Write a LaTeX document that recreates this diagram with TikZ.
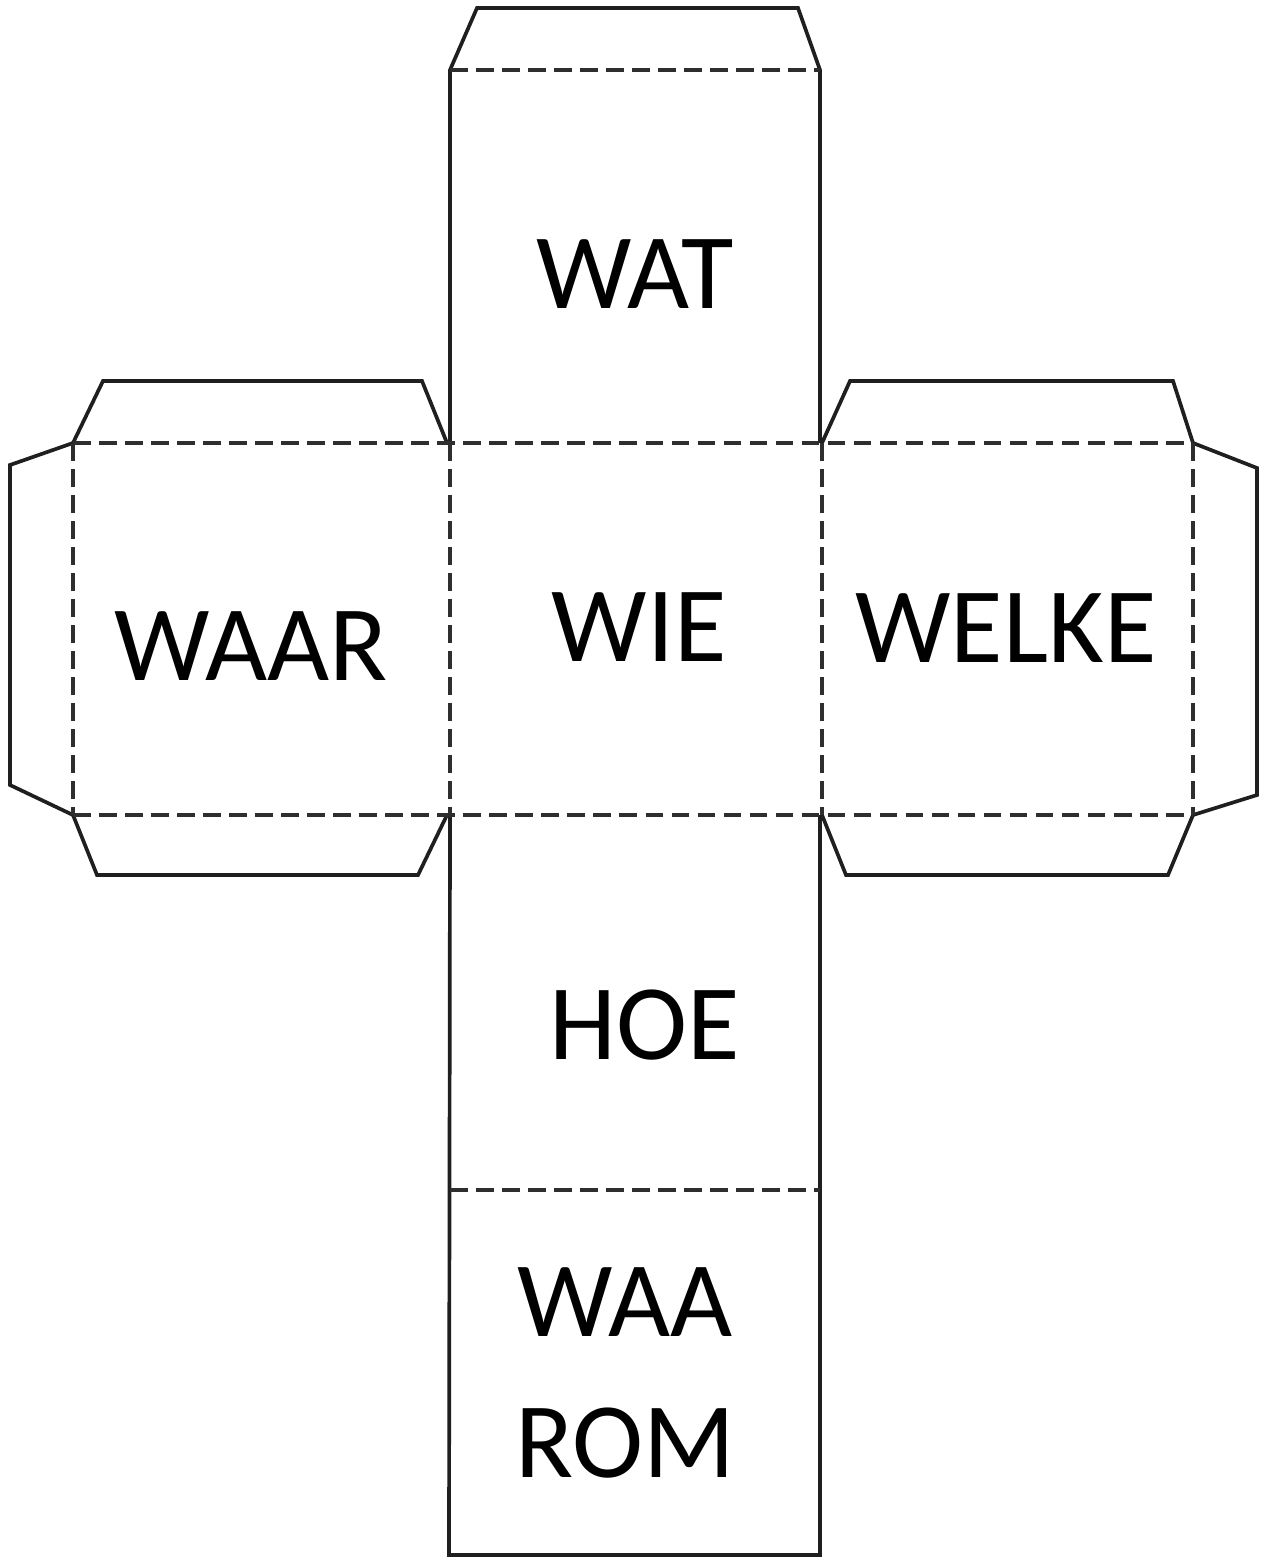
\documentclass[tikz,border=0pt]{standalone}
\usepackage{fontspec}
\setmainfont{Carlito}
\usepackage{tikz}

\begin{document}
\begin{tikzpicture}[
		x=0.01cm, y=-0.01cm,
		cut/.style={draw=black!88, line width=1.05pt, line join=miter},
		fold/.style={draw=black!82, line width=1.4pt, dash pattern=on 5pt off 2.4pt},
		every node/.style={font=\fontsize{30.5}{40}\selectfont, align=center, inner sep=0pt}
	]
  \useasboundingbox (0,0) rectangle (1264,1557);
  % outline of the net
  \draw[cut] (450,443) -- (450,70) -- (477,8) -- (798,8) -- (820,70) -- (820,443);
  \draw[cut] (73,443) -- (103,381) -- (422,381) -- (447,443);
  \draw[cut] (73,443) -- (10,465) -- (10,785) -- (73,815);
  \draw[cut] (73,815) -- (97,875) -- (418,875) -- (447,815);
  \draw[cut] (822,443) -- (850,381) -- (1173,381) -- (1193,443);
  \draw[cut] (1193,443) -- (1257,468) -- (1257,795) -- (1193,815);
  \draw[cut] (822,815) -- (846,875) -- (1168,875) -- (1193,815);
  \draw[cut] (450,815) -- (449,1555) -- (820,1555) -- (820,815);
  % folds
  \draw[fold] (450,70) -- (820,70);
  \draw[fold] (73,443) -- (1193,443);
  \draw[fold] (73,815) -- (1193,815);
  \draw[fold] (73,443) -- (73,815);
  \draw[fold] (450,443) -- (450,815);
  \draw[fold] (822,443) -- (822,815);
  \draw[fold] (1193,443) -- (1193,815);
  \draw[fold] (450,1190) -- (820,1190);
  % words
  \node (wat) at (635,274) {WAT};
  \node (wie) at (639,627) {WIE};
  \node (waar) at (251,646) {WAAR};
  \node (welke) at (1006,628) {WELKE};
  \node (hoe) at (645,1025) {HOE};
  \node (waarom) at (625,1373) {WAA\\ROM};
\end{tikzpicture}
\end{document}
